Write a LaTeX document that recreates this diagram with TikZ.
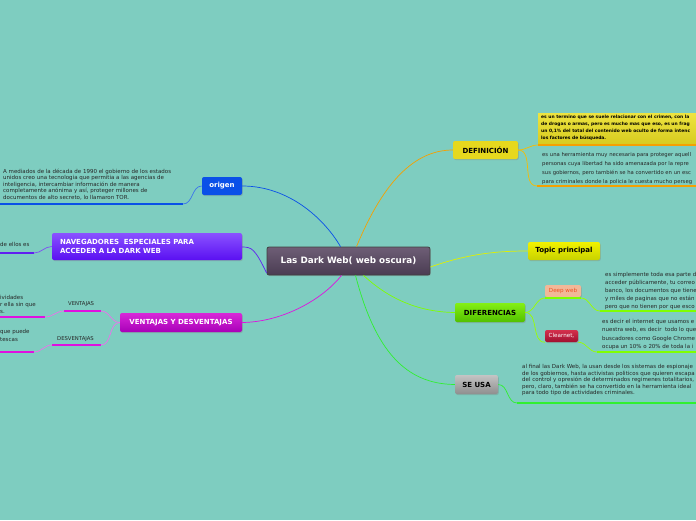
\documentclass[tikz,border=0pt]{standalone}
\usepackage{fontspec}
\setmainfont{DejaVu Sans}
\usetikzlibrary{shadows}

\definecolor{bgteal}{HTML}{7ECDC0}
\definecolor{lineorange}{HTML}{F5A000}
\definecolor{lineblue}{HTML}{0A50E8}
\definecolor{linepurple}{HTML}{6020F0}
\definecolor{linemagenta}{HTML}{E010E0}
\definecolor{linelime}{HTML}{80FF00}
\definecolor{linegreen}{HTML}{30F030}
\definecolor{lineyellow}{HTML}{E0F000}
\definecolor{centraltop}{HTML}{6E5E76}
\definecolor{centralbot}{HTML}{4A3C52}
\definecolor{navtop}{HTML}{8A52FF}
\definecolor{navbot}{HTML}{5A10F2}
\definecolor{vydtop}{HTML}{D828D8}
\definecolor{vydbot}{HTML}{A800B8}
\definecolor{deffill}{HTML}{E6D81E}
\definecolor{topictop}{HTML}{F2F200}
\definecolor{topicbot}{HTML}{C8D200}
\definecolor{diftop}{HTML}{84F014}
\definecolor{difbot}{HTML}{52C000}
\definecolor{seutop}{HTML}{C4C4C4}
\definecolor{seubot}{HTML}{8E8E8E}
\definecolor{deepfill}{HTML}{F2B898}
\definecolor{deeptext}{HTML}{F05020}
\definecolor{cleartop}{HTML}{D4304C}
\definecolor{clearbot}{HTML}{A01030}
\definecolor{notetop}{HTML}{EEE440}
\definecolor{notebot}{HTML}{D8CC20}

\begin{document}
\begin{tikzpicture}[x=1pt,y=-1pt,
    topicbox/.style={rounded corners=2pt, inner sep=0pt, align=center,
      font=\fontsize{7}{8.5}\selectfont\bfseries,
      drop shadow={shadow xshift=0.8pt,shadow yshift=-1pt,opacity=0.35}},
    note/.style={anchor=north west, align=left, inner sep=0pt, text=black!85,
      font=\fontsize{5.5}{6.6}\selectfont},
    uline/.style={line width=2.4pt},
    link/.style={line width=0.7pt}]
  \clip (0,0) rectangle (696,520);
  \fill[bgteal] (0,0) rectangle (696,520);

  % Central topic
  \node (central) [topicbox, minimum width=163pt, minimum height=28pt,
    top color=centraltop, bottom color=centralbot,
    draw=black!75, line width=0.8pt, text=white, font=\fontsize{8.8}{10}\selectfont\bfseries]
    at (348.5,261) {Las Dark Web( web oscura)};

  % Left side
  \node (origen) [topicbox, minimum width=40pt, minimum height=18pt, fill=lineblue, text=white] at (222,186) {origen};
  \node (nav) [topicbox, minimum width=190pt, minimum height=27pt, text width=174pt, align=left,
    top color=navtop, bottom color=navbot, text=white] at (147,246.5)
    {NAVEGADORES\ \ ESPECIALES PARA\\ACCEDER A LA DARK WEB};
  \node (vyd) [topicbox, minimum width=122pt, minimum height=19pt,
    top color=vydtop, bottom color=vydbot, text=white] at (181,322.5)
    {VENTAJAS Y DESVENTAJAS};

  \node (origentxt) [note] at (3,168.5) {A mediados de la década de 1990 el gobierno de los estados\\unidos creo una tecnologia que permitia a las agencias de\\inteligencia, intercambiar información de manera\\completamente anónima y así, proteger millones de\\documentos de alto secreto, lo llamaron TOR.};
  \coordinate (origenA) at (0,204);
  \coordinate (origenB) at (183,204);
  \draw[uline, lineblue] (origenA) -- (origenB);

  \node (navtxt) [note] at (0,242) {de ellos es};
  \coordinate (navA) at (0,253);
  \coordinate (navB) at (34,253);
  \draw[uline, linepurple] (navA) -- (navB);

  \node (vlabel) [note, font=\fontsize{5.3}{6}\selectfont] at (68,301) {VENTAJAS};
  \coordinate (vA) at (64,311);
  \coordinate (vB) at (101,311);
  \draw[uline, linemagenta] (vA) -- (vB);
  \node (dlabel) [note, font=\fontsize{5.3}{6}\selectfont] at (57,336) {DESVENTAJAS};
  \coordinate (dA) at (52,345);
  \coordinate (dB) at (101,345);
  \draw[uline, linemagenta] (dA) -- (dB);

  \node (vtxt) [note, font=\fontsize{5.5}{7}\selectfont] at (0,295) {ividades\\r ella sin que\\s.};
  \coordinate (vtA) at (0,317);
  \coordinate (vtB) at (45,317);
  \draw[uline, linemagenta] (vtA) -- (vtB);
  \node (dtxt) [note, font=\fontsize{5.5}{8}\selectfont] at (0,329) {que puede\\tescas};
  \coordinate (dtA) at (0,352);
  \coordinate (dtB) at (34,352);
  \draw[uline, linemagenta] (dtA) -- (dtB);

  % Right side
  \node (def) [topicbox, minimum width=65pt, minimum height=18pt, fill=deffill, text=black] at (485.5,150) {DEFINICIÓN};
  \node (topic) [topicbox, minimum width=72pt, minimum height=18pt,
    top color=topictop, bottom color=topicbot, text=black] at (564,251) {Topic principal};
  \node (dif) [topicbox, minimum width=70pt, minimum height=19pt,
    top color=diftop, bottom color=difbot, text=black] at (490,312.5) {DIFERENCIAS};
  \node (seusa) [topicbox, minimum width=43pt, minimum height=19pt,
    top color=seutop, bottom color=seubot, text=black] at (476.5,384.5) {SE USA};
  \node (deep) [topicbox, minimum width=36pt, minimum height=12pt, fill=deepfill,
    text=deeptext, font=\fontsize{5.6}{6}\selectfont] at (563,291) {Deep web};
  \node (clear) [topicbox, minimum width=33pt, minimum height=12pt,
    top color=cleartop, bottom color=clearbot, text=white,
    font=\fontsize{5.6}{6}\selectfont] at (561.5,336) {Clearnet,};

  \fill[top color=notetop, bottom color=notebot] (538,113) rectangle (700,143);
  \node (deftxtA) [note, font=\fontsize{4.45}{7}\selectfont\bfseries, text=black] at (541,114.5) {es un termino que se suele relacionar con el crimen, con la\\de drogas o armas, pero es mucho mas que eso, es un frag\\un 0,1\% del total del contenido web oculto de forma intenc\\los factores de búsqueda.};
  \coordinate (defA1) at (538,145);
  \coordinate (defA2) at (696,145);
  \draw[uline, lineorange] (defA1) -- (defA2);
  \node (deftxtB) [note, font=\fontsize{5.3}{9}\selectfont] at (542,152) {es una herramienta muy necesaria para proteger aquell\\personas cuya libertad ha sido amenazada por la repre\\sus gobiernos, pero también se ha convertido en un esc\\para criminales donde la policia le cuesta mucho perseg};
  \coordinate (defB1) at (537,186);
  \coordinate (defB2) at (696,186);
  \draw[uline, lineorange] (defB1) -- (defB2);

  \coordinate (deepA) at (545,298);
  \coordinate (deepB) at (581,298);
  \draw[uline, linelime] (deepA) -- (deepB);
  \node (deeptxt) [note, font=\fontsize{5.5}{8}\selectfont] at (605,272) {es simplemente toda esa parte d\\acceder públicamente, tu correo\\banco, los documentos que tiene\\y miles de paginas que no están\\pero que no tienen por que esco};
  \coordinate (deepC) at (600,311);
  \coordinate (deepD) at (696,311);
  \draw[uline, linelime] (deepC) -- (deepD);
  \node (cleartxt) [note, font=\fontsize{5.5}{8.5}\selectfont] at (602,319) {es decir el internet que usamos e\\nuestra web, es decir\ \ todo lo que\\buscadores como Google Chrome\\ocupa un 10\% o 20\% de toda la i};
  \coordinate (clearC) at (597,352);
  \coordinate (clearD) at (696,352);
  \draw[uline, linelime] (clearC) -- (clearD);

  \node (seusatxt) [note, font=\fontsize{5.5}{6.4}\selectfont] at (522,364.5) {al final las Dark Web, la usan desde los sistemas de espionaje\\de los gobiernos, hasta activistas politicos que quieren escapa\\del control y opresión de determinados regimenes totalitarios,\\pero, claro, también se ha convertido en la herramienta ideal\\para todo tipo de actividades criminales.};
  \coordinate (seusaC) at (517,403);
  \coordinate (seusaD) at (696,403);
  \draw[uline, linegreen] (seusaC) -- (seusaD);

  % Main branches
  \draw[link, lineblue] ([xshift=-8pt]central.north) .. controls (325,220) and (290,186) .. (origen.east);
  \draw[link, linepurple] ([yshift=-12pt]central.west) .. controls (255,249) and (252,247) .. ([yshift=-0.5pt]nav.east);
  \draw[link, linemagenta] ([xshift=-7pt]central.south) .. controls (322,300) and (282,322) .. (vyd.east);
  \draw[link, lineorange] ([xshift=8pt]central.north) .. controls (380,190) and (410,150) .. (def.west);
  \draw[link, lineyellow] ([yshift=-6pt]central.east) .. controls (470,253) and (500,251) .. (topic.west);
  \draw[link, linelime] ([xshift=15pt]central.south) .. controls (390,300) and (420,312) .. (dif.west);
  \draw[link, linegreen] ([xshift=7pt]central.south) .. controls (375,350) and (405,384) .. (seusa.west);

  % Sub branches
  \draw[link, lineblue!80!white] (origen.west) to[out=180,in=0] (origenB);
  \draw[link, linepurple!80!white] (nav.west) to[out=180,in=0] (navB);
  \draw[link, linemagenta!60!white] (vyd.west) to[out=180,in=0] (vB);
  \draw[link, linemagenta!60!white] (vyd.west) to[out=180,in=0] (dB);
  \draw[link, linemagenta!60!white] (vA) to[out=180,in=0] (vtB);
  \draw[link, linemagenta!60!white] (dA) to[out=180,in=0] (dtB);
  \draw[link, lineorange!70!yellow] (def.east) to[out=0,in=180] (defA1);
  \draw[link, lineorange!70!yellow] (def.east) to[out=0,in=180] (defB1);
  \draw[link, linelime!80!yellow] (dif.east) to[out=0,in=180] (deepA);
  \draw[link, linelime!80!yellow] (dif.east) to[out=0,in=180] (clear.south west);
  \draw[link, linelime!80!yellow] (deepB) to[out=0,in=180] (deepC);
  \draw[link, linelime!80!yellow] (clear.south east) to[out=0,in=180] (clearC);
  \draw[link, linegreen] (seusa.east) to[out=0,in=180] (seusaC);
\end{tikzpicture}
\end{document}
